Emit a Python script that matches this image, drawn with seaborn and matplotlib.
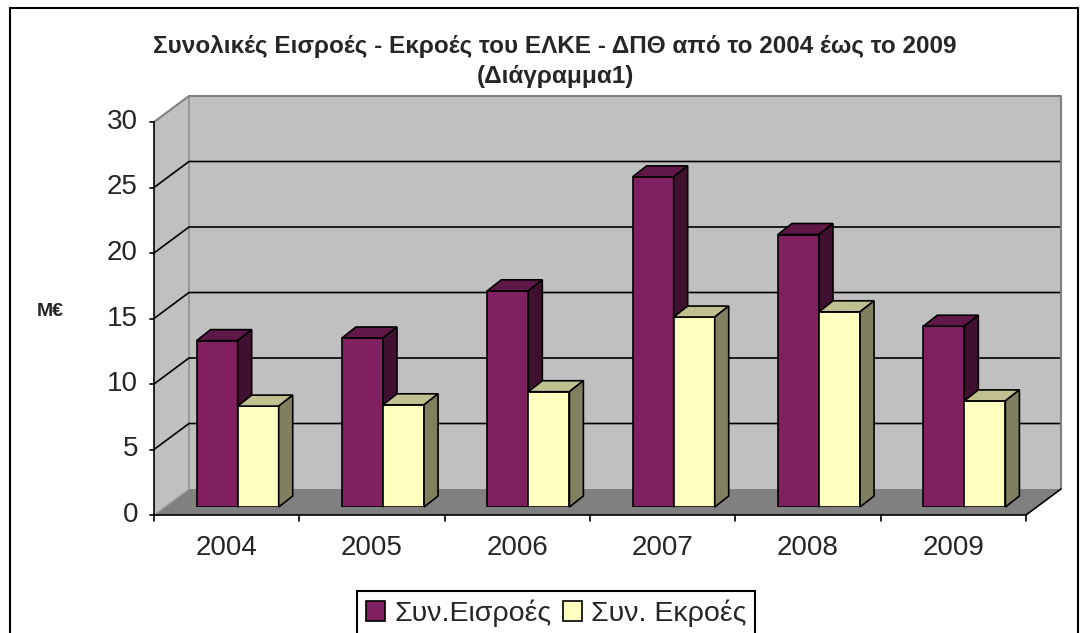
import pandas as pd
import seaborn as sns
import matplotlib.pyplot as plt
from matplotlib.patches import Polygon, Rectangle, Patch
from matplotlib.lines import Line2D
from matplotlib.transforms import IdentityTransform

# =====================
# Data (M€)
# =====================
years = ["2004", "2005", "2006", "2007", "2008", "2009"]
inflows = [12.7, 12.9, 16.5, 25.2, 20.8, 13.8]
outflows = [7.7, 7.8, 8.8, 14.5, 14.9, 8.1]
series = ["Συν.Εισροές", "Συν. Εκροές"]
yticks = [0, 5, 10, 15, 20, 25, 30]

face = ["#802060", "#ffffc0"]
side = ["#401030", "#808060"]
top = ["#601848", "#c0c090"]

sns.set_style("white")
plt.rcParams["font.family"] = ["Liberation Sans", "DejaVu Sans"]

W, H = 1088, 633
fig = plt.figure(figsize=(W / 100, H / 100), dpi=100)
ax = fig.add_axes([165 / W, (H - 507) / H, 872 / W, 393 / H])

df = pd.DataFrame({
    "year": years * 2,
    "value": inflows + outflows,
    "series": [series[0]] * len(years) + [series[1]] * len(years),
})
sns.barplot(data=df, x="year", y="value", hue="series", palette=face,
            width=0.565, saturation=1, edgecolor="black", linewidth=1.2,
            ax=ax, legend=False)
ax.set_xlim(-0.5, len(years) - 0.5)
ax.set_ylim(0, 30)
ax.axis("off")

# =====================
# Fake 3D geometry (pixel offsets from the bar plane)
# =====================
ID = IdentityTransform()
FRONT = (-11, -8)
BACK = (24, 18)
DEPTH = (14, 11)
x0, x1 = -0.5, len(years) - 0.5


def pt(x, y, off=(0, 0)):
    px, py = ax.transData.transform((x, y))
    return (px + off[0], py + off[1])


def poly(pts, fc, ec="none", lw=0, z=0.1):
    ax.add_patch(Polygon(pts, closed=True, fc=fc, ec=ec, lw=lw,
                         transform=ID, clip_on=False, zorder=z))


def line(pts, color="black", lw=1.2, z=0.3):
    xs, ys = zip(*pts)
    ax.add_line(Line2D(xs, ys, color=color, lw=lw, transform=ID,
                       clip_on=False, zorder=z))


# walls and floor
poly([pt(x0, 0, FRONT), pt(x0, 30, FRONT), pt(x0, 30, BACK), pt(x0, 0, BACK)], "#c0c0c0")
poly([pt(x0, 0, BACK), pt(x1, 0, BACK), pt(x1, 30, BACK), pt(x0, 30, BACK)], "#c0c0c0")
poly([pt(x0, 0, FRONT), pt(x1, 0, FRONT), pt(x1, 0, BACK), pt(x0, 0, BACK)], "#808080", z=0.2)

for v in yticks[1:-1]:
    line([pt(x0, v, FRONT), pt(x0, v, BACK), pt(x1, v, BACK)])
line([pt(x0, 30, FRONT), pt(x0, 30, BACK), pt(x1, 30, BACK), pt(x1, 0, BACK)], color="#808080", lw=1.5)
line([pt(x0, 0, BACK), pt(x0, 30, BACK)], color="#909090", lw=1.2, z=0.25)
line([pt(x0, 0, FRONT), pt(x0, 0, BACK)], color="#a0a0a0", lw=1.0, z=0.25)

# front axes
line([pt(x0, 0, FRONT), pt(x0, 30, FRONT)], z=5)
line([pt(x0, 0, FRONT), pt(x1, 0, FRONT), pt(x1, 0, BACK)], z=5)
for v in yticks:
    px, py = pt(x0, v, FRONT)
    line([(px - 4, py), (px, py)], z=5)
    ax.text(px - 16, py, str(v), transform=ID, ha="right", va="center",
            fontsize=20)
for k in range(len(years) + 1):
    px, py = pt(k - 0.5, 0, FRONT)
    line([(px, py), (px, py - 6)], z=5)
for k, yr in enumerate(years):
    px, py = pt(k, 0, FRONT)
    ax.text(px, py - 33, yr, transform=ID, ha="center", va="center",
            fontsize=20)

# bar tops and sides
for j, cont in enumerate(ax.containers):
    for p in cont:
        p.set_zorder(2 + j)
        bx, bw, bh = p.get_x(), p.get_width(), p.get_height()
        a, b = pt(bx, bh), pt(bx + bw, bh)
        c = pt(bx + bw, 0)
        poly([a, b, (b[0] + DEPTH[0], b[1] + DEPTH[1]), (a[0] + DEPTH[0], a[1] + DEPTH[1])],
             top[j], ec="black", lw=1.2, z=2 + j + 0.05)
        poly([c, b, (b[0] + DEPTH[0], b[1] + DEPTH[1]), (c[0] + DEPTH[0], c[1] + DEPTH[1])],
             side[j], ec="black", lw=1.2, z=2 + j + 0.05)

# =====================
# Titles, legend, frame
# =====================
fig.text(555 / W, 1 - 47 / H, "Συνολικές Εισροές - Εκροές του ΕΛΚΕ - ΔΠΘ από το 2004 έως το 2009",
         ha="center", va="center", fontsize=17.5, fontweight="bold")
fig.text(555 / W, 1 - 77 / H, "(Διάγραμμα1)", ha="center", va="center",
         fontsize=17.5, fontweight="bold")
fig.text(50 / W, 1 - 312 / H, "M€", ha="center", va="center",
         fontsize=14, fontweight="bold")

handles = [Patch(fc=face[i], ec="black", lw=1.2) for i in range(2)]
leg = fig.legend(handles, series, loc="upper left",
                 bbox_to_anchor=(357 / W, 1 - 591 / H), ncol=2,
                 frameon=True, fancybox=False, edgecolor="black",
                 fontsize=20.5, handlelength=0.7, handleheight=0.7,
                 handletextpad=0.3, columnspacing=0.4, borderpad=0.3,
                 borderaxespad=0, framealpha=1)
leg.get_frame().set_linewidth(1.5)

fig.patches.append(Rectangle((10 / W, -0.1), 1068 / W, 1.1 - 8 / H,
                             transform=fig.transFigure, fill=False,
                             ec="black", lw=1.5))

fig.savefig("out.png", dpi=100)
